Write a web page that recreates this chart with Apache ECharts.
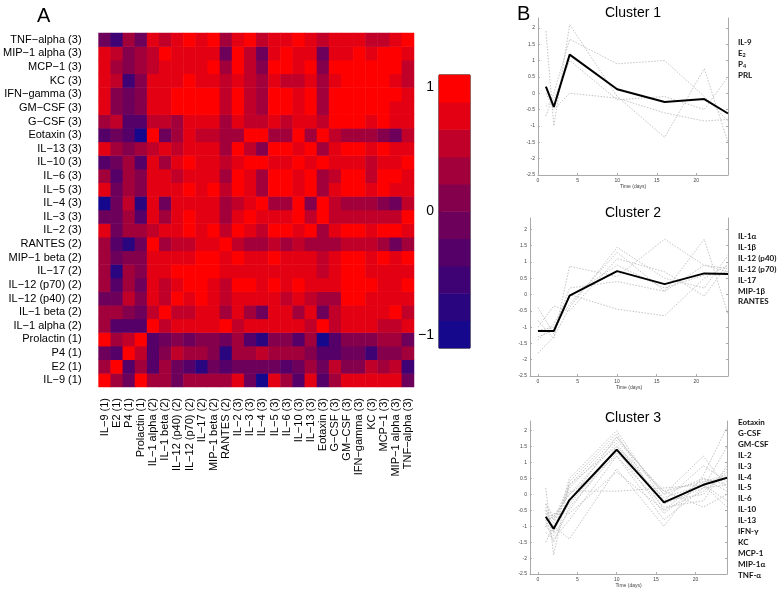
<!DOCTYPE html>
<html><head><meta charset="utf-8">
<script src="https://cdn.jsdelivr.net/npm/echarts@6/dist/echarts.min.js"></script>
<style>html,body{margin:0;padding:0;background:#fff}#c{width:778px;height:589px}</style>
</head><body><div id="c"></div>
<script>
// ---------- Panel A data ----------
const varNames = ['IL\u22129','E2','P4','Prolactin','IL\u22121 alpha','IL\u22121 beta','IL\u221212 (p40)','IL\u221212 (p70)','IL\u221217','MIP\u22121 beta','RANTES','IL\u22122','IL\u22123','IL\u22124','IL\u22125','IL\u22126','IL\u221210','IL\u221213','Eotaxin','G\u2212CSF','GM\u2212CSF','IFN\u2212gamma','KC','MCP\u22121','MIP\u22121 alpha','TNF\u2212alpha'];
const varCluster = [1,1,1,1,2,2,2,2,2,2,2,3,3,3,3,3,3,3,3,3,3,3,3,3,3,3];
// lower triangle of the correlation matrix (row i: correlations with variables 0..i-1)
const corrLower = [
  [],
  [0.25],
  [-0.1,-0.35],
  [0.9,0.38,0.62],
  [0.25,-0.3,-0.3,-0.35],
  [0.38,0.25,0.0,-0.05,0.5],
  [-0.1,-0.1,0.62,0.1,0.75,0.62],
  [0.25,-0.4,0.25,-0.1,0.75,0.5,0.82],
  [0.38,-0.7,0.25,0.0,0.82,0.75,0.9,0.9],
  [0.38,-0.1,0.1,0.0,0.75,0.75,0.75,0.82,0.9],
  [0.38,-0.3,-0.7,-0.2,0.95,0.38,0.5,0.62,0.75,0.75],
  [0.75,-0.1,0.25,0.25,0.62,0.75,0.82,0.9,0.82,0.95,0.5],
  [-0.2,-0.2,0.25,-0.4,0.75,0.38,0.82,0.9,0.82,0.82,0.38,0.82],
  [-0.9,-0.2,0.62,-0.7,0.75,-0.1,0.75,0.82,0.75,0.75,0.38,0.62,0.75],
  [0.75,-0.2,0.25,0.0,0.82,0.82,0.82,0.9,0.82,0.9,0.62,0.9,0.75,0.3],
  [0.38,-0.3,0.25,0.0,0.75,0.82,0.62,0.75,0.75,0.75,0.25,0.95,0.75,0.3,0.9],
  [-0.3,-0.2,0.25,-0.3,0.82,0.25,0.82,0.9,0.82,0.82,0.5,0.75,0.9,0.9,0.75,0.75],
  [0.75,0.25,0.0,0.25,0.5,0.82,0.62,0.75,0.82,0.82,0.38,0.95,0.5,0.1,0.9,0.9,0.75],
  [-0.4,-0.1,-0.4,-0.9,0.9,-0.1,0.38,0.75,0.62,0.5,0.38,0.38,0.9,0.9,0.25,0.25,0.9,0.25],
  [0.38,0.62,-0.4,-0.4,0.62,0.62,0.38,0.75,0.75,0.75,0.38,0.82,0.62,0.55,0.75,0.62,0.75,0.82,0.62],
  [0.75,0.0,-0.1,0.0,0.82,0.82,0.9,0.95,0.95,0.95,0.5,0.95,0.62,0.3,0.9,0.9,0.75,0.9,0.25,0.9],
  [0.75,0.0,-0.1,0.1,0.82,0.82,0.9,0.95,0.95,0.95,0.5,0.95,0.62,0.3,0.9,0.9,0.75,0.9,0.25,0.9,0.95],
  [0.75,0.62,-0.5,0.1,0.82,0.82,0.82,0.9,0.82,0.82,0.62,0.75,0.5,0.3,0.82,0.62,0.62,0.82,0.25,0.82,0.9,0.9],
  [0.75,0.38,0.0,0.25,0.62,0.82,0.75,0.75,0.82,0.9,0.25,0.95,0.5,0.05,0.9,0.9,0.75,0.9,0.1,0.9,0.9,0.95,0.9],
  [0.75,0.5,0.1,0.25,0.62,0.9,0.75,0.75,0.75,0.82,-0.1,0.95,0.5,-0.05,0.82,0.9,0.75,0.82,-0.1,0.82,0.82,0.9,0.82,0.9],
  [-0.2,-0.5,0.25,-0.1,0.75,0.5,0.75,0.95,0.82,0.95,0.25,0.75,0.9,0.62,0.82,0.82,0.95,0.75,0.62,0.75,0.75,0.75,0.62,0.62,0.82]
];
const bandEdges = [-1.1,-0.88,-0.66,-0.44,-0.22,0,0.22,0.44,0.66,0.88,1.1];
const bandColors = ['#16088C','#2A0580','#3E0274','#540068','#6C005A','#85004C','#A2003B','#C00028','#E30012','#FF0000'];
const colorbarTicks = [-1,0,1];

// ---------- Panel B data ----------
const days1 = [1,2,4,10,16,21,24];
const days2 = [0,2,4,10,16,21,24];
const days3 = [1,2,4,10,16,21,24];
const cluster1Mean = [0.2,-0.42,1.18,0.12,-0.27,-0.18,-0.62];
const cluster1Lines = [
  [1.9,-1.0,2.1,-0.1,-1.35,0.75,-1.5],
  [-0.7,0.0,1.65,0.9,1.0,-0.1,-0.85],
  [0.0,-0.5,0.0,-0.15,-0.6,-0.85,-0.8],
  [-0.4,-0.2,1.0,-0.2,-0.1,-0.5,0.5]
];
const cluster2Mean = [-1.12,-1.12,-0.03,0.72,0.32,0.65,0.63];
const cluster2Lines = [
  [-0.8,-1.35,0.87,0.55,1.7,0.9,0.7],
  [-1.8,-1.3,-0.4,1.45,0.5,0.2,1.2],
  [-1.1,-1.0,-0.3,1.3,0.1,1.7,-0.6],
  [-0.4,-1.2,0.0,-0.45,-0.65,0.5,0.9],
  [-1.0,-0.35,-0.5,1.1,0.7,-0.05,0.95],
  [-1.3,-1.1,0.2,0.4,0.1,0.9,0.8],
  [-1.4,-0.9,-0.05,0.9,0.2,0.6,0.7]
];
const cluster3Mean = [-0.7,-1.08,-0.18,1.4,-0.25,0.3,0.52];
const cluster3Lines = [
  [0.2,-1.9,0.4,1.9,-0.5,0.5,0.3],
  [-0.5,-1.2,0.3,1.8,0.0,1.2,0.2],
  [-1.5,-1.0,-1.4,0.8,-1.0,0.6,2.1],
  [-0.8,-0.7,0.0,1.6,-0.3,0.2,1.5],
  [-1.0,-1.3,-0.5,1.5,-0.2,0.0,0.8],
  [-0.6,-0.9,0.2,1.7,0.1,-0.4,0.0],
  [-0.9,-1.1,-0.3,1.4,-0.6,0.4,0.6],
  [-0.3,-0.8,0.1,0.1,0.2,0.3,-0.4],
  [-1.2,-1.4,-0.8,1.2,-0.4,-0.2,0.9],
  [-0.7,-1.0,-0.2,1.8,0.0,0.5,0.1],
  [-0.4,-1.2,0.5,2.0,-0.2,0.9,0.4],
  [-1.0,-0.6,-0.6,0.7,-0.5,0.1,0.7],
  [-0.8,-1.5,-0.4,1.3,-0.1,0.3,-0.2],
  [-0.5,-0.8,0.3,1.5,0.1,0.4,0.5],
  [-0.3,-0.7,0.0,1.2,-0.8,0.2,0.3]
];
const cluster1Names = ['IL-9','E|2','P|4','PRL'];
const cluster2Names = ['IL-1\u03b1','IL-1\u03b2','IL-12 (p40)','IL-12 (p70)','IL-17','MIP-1\u03b2','RANTES'];
const cluster3Names = ['Eotaxin','G-CSF','GM-CSF','IL-2','IL-3','IL-4','IL-5','IL-6','IL-10','IL-13','IFN-\u03b3','KC','MCP-1','MIP-1\u03b1','TNF-\u03b1'];
const yTicks = [-2.5,-2,-1.5,-1,-0.5,0,0.5,1,1.5,2];
const xTicks = [0,5,10,15,20];

// ---------- build ----------
const labels = varNames.map((n,i)=> n + ' (' + varCluster[i] + ')');
const n = varNames.length;
const heatData = [];
for (let i=0;i<n;i++) for (let j=0;j<n;j++) {
  let v;
  if (i===j) v = 1; else if (j<i) v = corrLower[i][j]; else v = corrLower[j][i];
  heatData.push([j,i,v]);
}
const bandCenters = bandColors.map((c,k)=> (bandEdges[k]+bandEdges[k+1])/2);
const cbData = bandCenters.map((v,k)=>[0,k,v]);
const pieces = bandColors.map((c,k)=>({gte:bandEdges[k], lt:bandEdges[k+1]+(k===bandColors.length-1?0.01:0), color:c}));

const FONT = '"Liberation Sans", Arial, sans-serif';
const grids = [
  {left:95, top:33, width:319, height:354},
  {left:439, top:75, width:31, height:273, show:true, borderColor:'#000', borderWidth:1},
  {left:538, top:18, width:190, height:157},
  {left:530, top:218, width:198, height:158},
  {left:530, top:421, width:197, height:155}
];
function clusterX(gi, min){
  return {type:'value', gridIndex:gi, min:min, max:24,
    name:'Time (days)', nameLocation:'middle', nameGap:8,
    nameTextStyle:{fontSize:5, color:'#444', fontFamily:FONT},
    axisLine:{onZero:false, lineStyle:{color:'#aaa'}}, splitLine:{show:false},
    axisTick:{inside:true, length:2, customValues:xTicks, lineStyle:{color:'#aaa'}},
    axisLabel:{fontSize:5, color:'#444', margin:3, fontFamily:FONT, customValues:xTicks}};
}
function clusterY(gi, max){
  return {type:'value', gridIndex:gi, min:-2.5, max:max,
    axisLine:{show:true, onZero:false, lineStyle:{color:'#aaa'}}, splitLine:{show:false},
    axisTick:{show:true, inside:true, length:2, customValues:yTicks, lineStyle:{color:'#aaa'}},
    axisLabel:{fontSize:5, color:'#444', margin:3, fontFamily:FONT, customValues:yTicks}};
}
function clusterYR(gi, max){
  return {type:'value', gridIndex:gi, min:-2.5, max:max, position:'right',
    axisLine:{show:true, onZero:false, lineStyle:{color:'#aaa'}}, splitLine:{show:false},
    axisTick:{show:true, inside:true, length:2, customValues:yTicks, lineStyle:{color:'#aaa'}},
    axisLabel:{show:false}};
}
const series = [];
series.push({type:'heatmap', xAxisIndex:0, yAxisIndex:0, data:heatData, emphasis:{disabled:true}, progressive:0});
series.push({type:'heatmap', xAxisIndex:1, yAxisIndex:1, data:cbData, emphasis:{disabled:true}});
function addCluster(xi, yi, days, lines, mean){
  lines.forEach(l=> series.push({type:'line', xAxisIndex:xi, yAxisIndex:yi, data:days.map((d,k)=>[d,l[k]]),
    showSymbol:false, symbol:'none', lineStyle:{color:'#c4c4c4', width:1, type:[1.5,1.5]}, silent:true, z:2}));
  series.push({type:'line', xAxisIndex:xi, yAxisIndex:yi, data:days.map((d,k)=>[d,mean[k]]),
    showSymbol:false, symbol:'none', lineStyle:{color:'#000', width:2}, silent:true, z:3});
}
addCluster(2,3,days1,cluster1Lines,cluster1Mean);
addCluster(3,4,days2,cluster2Lines,cluster2Mean);
addCluster(4,5,days3,cluster3Lines,cluster3Mean);

function nameText(list){
  return list.map(s=>{ const p=s.split('|'); return p.length>1 ? '{b|'+p[0]+'}{s|'+p[1]+'}' : '{b|'+s+'}'; }).join('\n');
}
const rich = {b:{fontFamily:'Lato, sans-serif', fontWeight:'bold', fontSize:8, color:'#111', lineHeight:10.9},
              s:{fontFamily:'Lato, sans-serif', fontWeight:'bold', fontSize:5.5, color:'#111', lineHeight:10.9, padding:[4,0,0,0]}};
const option = {
  animation:false,
  backgroundColor:'#fff',
  title:[
    {text:'A', left:32, top:1, textStyle:{fontFamily:FONT, fontWeight:'normal', fontSize:20, color:'#000'}},
    {text:'B', left:512, top:-1, textStyle:{fontFamily:FONT, fontWeight:'normal', fontSize:20, color:'#000'}},
    {text:'Cluster 1', left:628, textAlign:'center', top:1, textStyle:{fontFamily:FONT, fontWeight:'normal', fontSize:14, color:'#000'}},
    {text:'Cluster 2', left:628, textAlign:'center', top:201, textStyle:{fontFamily:FONT, fontWeight:'normal', fontSize:14, color:'#000'}},
    {text:'Cluster 3', left:628, textAlign:'center', top:406, textStyle:{fontFamily:FONT, fontWeight:'normal', fontSize:14, color:'#000'}},
    {text:nameText(cluster1Names), left:738, top:37, padding:0, textStyle:{rich:rich}},
    {text:nameText(cluster2Names), left:738, top:231, padding:0, textStyle:{rich:rich}},
    {text:nameText(cluster3Names), left:738, top:417, padding:0, textStyle:{rich:rich}}
  ],
  grid:grids,
  xAxis:[
    {type:'category', gridIndex:0, data:labels, axisLine:{show:false}, axisTick:{show:false}, splitLine:{show:false},
     axisLabel:{rotate:90, interval:0, fontSize:11, color:'#000', margin:11, fontFamily:FONT}},
    {type:'category', gridIndex:1, data:['cb'], show:false},
    clusterX(2,0), clusterX(3,-1), clusterX(4,-1)
  ],
  yAxis:[
    {type:'category', gridIndex:0, data:labels, axisLine:{show:false}, axisTick:{show:false}, splitLine:{show:false},
     axisLabel:{interval:0, fontSize:11, color:'#000', margin:17, fontFamily:FONT}},
    {type:'category', gridIndex:1, data:bandCenters.map(String), show:false},
    {type:'value', gridIndex:1, min:-1.1, max:1.1, position:'left', axisLine:{show:false}, splitLine:{show:false},
     axisTick:{show:true, inside:true, length:3, customValues:colorbarTicks, lineStyle:{color:'#000'}},
     axisLabel:{fontSize:14, color:'#000', margin:5, fontFamily:FONT, customValues:colorbarTicks,
       formatter:v=> v<0 ? '\u2212'+Math.abs(v) : String(v)}},
    clusterY(2,2.3), clusterY(3,2.35), clusterY(4,2.3),
    clusterYR(2,2.3), clusterYR(3,2.35), clusterYR(4,2.3)
  ],
  visualMap:{type:'piecewise', show:false, seriesIndex:[0,1], pieces:pieces, dimension:2},
  series:series
};
const chart = echarts.init(document.getElementById('c'), null, {renderer:'canvas'});
chart.setOption(option);
</script></body></html>
